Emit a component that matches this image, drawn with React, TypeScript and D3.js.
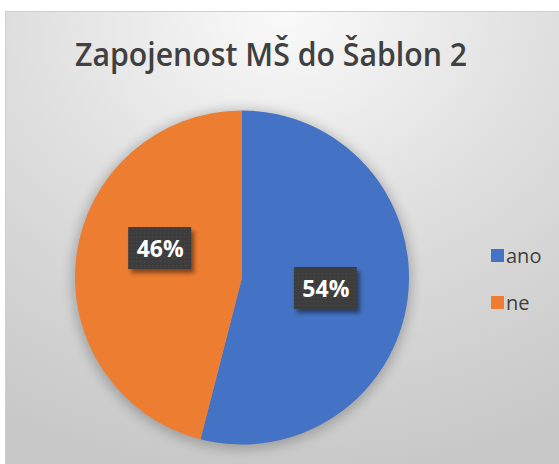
import React from 'react';
import * as d3 from 'd3';

const title = 'Zapojenost MŠ do Šablon 2';
const categories = ['ano', 'ne'];
const values = [54, 46];
const colors = ['#4472C4', '#ED7D31'];

const W = 559;
const H = 464;
const cx = 242;
const cy = 277.5;
const R = 167;
// manually nudged data-label offsets (y), as in the reference
const labelNudge = [0, -19];

export default function App() {
  const pie = d3.pie<number>().sort(null).startAngle(0).endAngle(2 * Math.PI)(values);
  const arc = d3.arc<d3.PieArcDatum<number>>().innerRadius(0).outerRadius(R);
  const total = d3.sum(values);
  const fmt = d3.format('.0%');
  const legendY = d3.scalePoint<string>().domain(categories).range([256, 303]);

  return (
    <svg width={W} height={H} style={{ position: 'absolute', left: 0, top: 0, fontFamily: '"Open Sans", sans-serif' }}>
      <defs>
        <radialGradient id="bg" cx="50%" cy="0%" r="100%" fx="50%" fy="0%">
          <stop offset="0" stopColor="#fafafa" />
          <stop offset="0.5" stopColor="#dedede" />
          <stop offset="1" stopColor="#c8c8c8" />
        </radialGradient>
        <filter id="pieShadow" x="-20%" y="-20%" width="140%" height="140%">
          <feGaussianBlur stdDeviation="6" />
        </filter>
        <filter id="boxShadow" x="-30%" y="-30%" width="160%" height="160%">
          <feGaussianBlur stdDeviation="2" />
        </filter>
        <pattern id="dots" width="4" height="4" patternUnits="userSpaceOnUse">
          <rect width="4" height="4" fill="#3d3d3d" />
          <rect x="1" y="1" width="1" height="1" fill="#4d4d4d" />
        </pattern>
      </defs>
      <rect x={0} y={0} width={W} height={H} fill="#ffffff" />
      <rect x={5.5} y={11.5} width={W} height={H} fill="url(#bg)" stroke="#cfcfcf" strokeWidth={1} />
      <text x={271} y={66} textAnchor="middle" fontSize={32} fontWeight={600} fill="#404040" textLength={392} lengthAdjust="spacingAndGlyphs">
        {title}
      </text>
      <circle cx={cx} cy={cy + 2} r={R + 3} fill="#000" opacity={0.22} filter="url(#pieShadow)" />
      <g transform={`translate(${cx},${cy})`}>
        {pie.map((d, i) => (
          <path key={categories[i]} d={arc(d) || ''} fill={colors[i]} />
        ))}
        {pie.map((d, i) => {
          const [x, y0] = arc.centroid(d);
          const y = y0 + labelNudge[i];
          return (
            <g key={'l' + i} transform={`translate(${x},${y})`}>
              <rect x={-31 + 3} y={-21 + 4} width={63} height={42} fill="#000" opacity={0.45} filter="url(#boxShadow)" />
              <rect x={-31} y={-21} width={63} height={42} fill="url(#dots)" />
              <text x={1} y={9} textAnchor="middle" fontSize={23} fontWeight="bold" fill="#ffffff">
                {fmt(values[i] / total)}
              </text>
            </g>
          );
        })}
      </g>
      {categories.map((c, i) => (
        <g key={c} transform={`translate(491,${legendY(c)})`}>
          <rect x={0} y={-7} width={13} height={13} fill={colors[i]} />
          <text x={15} y={6.5} fontSize={20} fill="#404040">{c}</text>
        </g>
      ))}
    </svg>
  );
}
